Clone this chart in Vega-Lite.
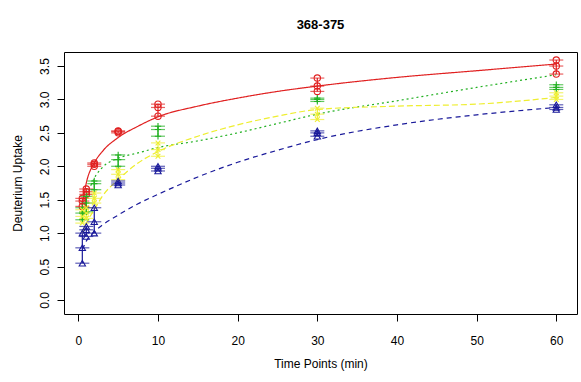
{
  "$schema": "https://vega.github.io/schema/vega-lite/v6.json",
  "autosize": "none",
  "width": 513,
  "height": 262,
  "padding": {"left": 64, "top": 52, "right": 4, "bottom": 68},
  "background": "white",
  "config": {
    "font": "Liberation Sans",
    "view": {"stroke": "black", "strokeWidth": 1},
    "axis": {"grid": false, "domain": false, "tickColor": "black", "tickSize": 7, "labelColor": "black", "titleColor": "black", "labelFontSize": 12, "titleFontSize": 12, "titleFontWeight": "normal"}
  },
  "title": {"text": "368-375", "fontSize": 13, "fontWeight": "bold", "anchor": "middle", "offset": 20, "color": "black"},
  "datasets": {
    "pts": [
      {"s": "A", "t": 0.5, "v": 1.4}, {"s": "A", "t": 0.5, "v": 1.48}, {"s": "A", "t": 0.5, "v": 1.52},
      {"s": "A", "t": 1, "v": 1.58}, {"s": "A", "t": 1, "v": 1.62}, {"s": "A", "t": 1, "v": 1.66},
      {"s": "A", "t": 2, "v": 2.0}, {"s": "A", "t": 2, "v": 2.03}, {"s": "A", "t": 2, "v": 2.05},
      {"s": "A", "t": 5, "v": 2.5}, {"s": "A", "t": 5, "v": 2.52}, {"s": "A", "t": 5, "v": 2.53},
      {"s": "A", "t": 10, "v": 2.75}, {"s": "A", "t": 10, "v": 2.88}, {"s": "A", "t": 10, "v": 2.93},
      {"s": "A", "t": 30, "v": 3.12}, {"s": "A", "t": 30, "v": 3.2}, {"s": "A", "t": 30, "v": 3.32},
      {"s": "A", "t": 60, "v": 3.38}, {"s": "A", "t": 60, "v": 3.5}, {"s": "A", "t": 60, "v": 3.59},
      {"s": "B", "t": 0.5, "v": 1.2}, {"s": "B", "t": 0.5, "v": 1.3}, {"s": "B", "t": 0.5, "v": 1.38},
      {"s": "B", "t": 1, "v": 1.32}, {"s": "B", "t": 1, "v": 1.45}, {"s": "B", "t": 1, "v": 1.55},
      {"s": "B", "t": 2, "v": 1.65}, {"s": "B", "t": 2, "v": 1.74}, {"s": "B", "t": 2, "v": 1.78},
      {"s": "B", "t": 5, "v": 2.0}, {"s": "B", "t": 5, "v": 2.1}, {"s": "B", "t": 5, "v": 2.17},
      {"s": "B", "t": 10, "v": 2.45}, {"s": "B", "t": 10, "v": 2.55}, {"s": "B", "t": 10, "v": 2.6},
      {"s": "B", "t": 30, "v": 2.97}, {"s": "B", "t": 30, "v": 3.0}, {"s": "B", "t": 30, "v": 3.02},
      {"s": "B", "t": 60, "v": 3.15}, {"s": "B", "t": 60, "v": 3.18}, {"s": "B", "t": 60, "v": 3.22},
      {"s": "C", "t": 0.5, "v": 1.15}, {"s": "C", "t": 0.5, "v": 1.25}, {"s": "C", "t": 0.5, "v": 1.35},
      {"s": "C", "t": 1, "v": 1.22}, {"s": "C", "t": 1, "v": 1.3}, {"s": "C", "t": 1, "v": 1.38},
      {"s": "C", "t": 2, "v": 1.45}, {"s": "C", "t": 2, "v": 1.52}, {"s": "C", "t": 2, "v": 1.6},
      {"s": "C", "t": 5, "v": 1.8}, {"s": "C", "t": 5, "v": 1.88}, {"s": "C", "t": 5, "v": 1.95},
      {"s": "C", "t": 10, "v": 2.15}, {"s": "C", "t": 10, "v": 2.25}, {"s": "C", "t": 10, "v": 2.35},
      {"s": "C", "t": 30, "v": 2.7}, {"s": "C", "t": 30, "v": 2.78}, {"s": "C", "t": 30, "v": 2.87},
      {"s": "C", "t": 60, "v": 3.0}, {"s": "C", "t": 60, "v": 3.05}, {"s": "C", "t": 60, "v": 3.1},
      {"s": "D", "t": 0.5, "v": 0.55}, {"s": "D", "t": 0.5, "v": 0.78}, {"s": "D", "t": 0.5, "v": 1.0},
      {"s": "D", "t": 1, "v": 0.95}, {"s": "D", "t": 1, "v": 1.05}, {"s": "D", "t": 1, "v": 1.1},
      {"s": "D", "t": 2, "v": 1.0}, {"s": "D", "t": 2, "v": 1.17}, {"s": "D", "t": 2, "v": 1.38},
      {"s": "D", "t": 5, "v": 1.72}, {"s": "D", "t": 5, "v": 1.75}, {"s": "D", "t": 5, "v": 1.78},
      {"s": "D", "t": 10, "v": 1.93}, {"s": "D", "t": 10, "v": 1.97}, {"s": "D", "t": 10, "v": 2.0},
      {"s": "D", "t": 30, "v": 2.45}, {"s": "D", "t": 30, "v": 2.5}, {"s": "D", "t": 30, "v": 2.53},
      {"s": "D", "t": 60, "v": 2.85}, {"s": "D", "t": 60, "v": 2.88}, {"s": "D", "t": 60, "v": 2.92}
    ],
    "curves": [
      {"s": "A", "t": 0.5, "v": 1.42}, {"s": "A", "t": 1, "v": 1.75}, {"s": "A", "t": 2, "v": 2.05}, {"s": "A", "t": 3, "v": 2.22}, {"s": "A", "t": 5, "v": 2.43}, {"s": "A", "t": 7.5, "v": 2.6}, {"s": "A", "t": 10, "v": 2.74}, {"s": "A", "t": 15, "v": 2.9}, {"s": "A", "t": 20, "v": 3.02}, {"s": "A", "t": 25, "v": 3.12}, {"s": "A", "t": 30, "v": 3.2}, {"s": "A", "t": 40, "v": 3.33}, {"s": "A", "t": 50, "v": 3.43}, {"s": "A", "t": 60, "v": 3.53},
      {"s": "B", "t": 0.5, "v": 1.2}, {"s": "B", "t": 1, "v": 1.5}, {"s": "B", "t": 2, "v": 1.82}, {"s": "B", "t": 3, "v": 1.98}, {"s": "B", "t": 5, "v": 2.12}, {"s": "B", "t": 7.5, "v": 2.2}, {"s": "B", "t": 10, "v": 2.28}, {"s": "B", "t": 15, "v": 2.38}, {"s": "B", "t": 20, "v": 2.5}, {"s": "B", "t": 25, "v": 2.64}, {"s": "B", "t": 30, "v": 2.78}, {"s": "B", "t": 40, "v": 2.98}, {"s": "B", "t": 50, "v": 3.18}, {"s": "B", "t": 60, "v": 3.37},
      {"s": "C", "t": 0.5, "v": 1.0}, {"s": "C", "t": 1, "v": 1.15}, {"s": "C", "t": 2, "v": 1.35}, {"s": "C", "t": 3, "v": 1.55}, {"s": "C", "t": 5, "v": 1.8}, {"s": "C", "t": 7.5, "v": 2.05}, {"s": "C", "t": 10, "v": 2.22}, {"s": "C", "t": 15, "v": 2.45}, {"s": "C", "t": 20, "v": 2.62}, {"s": "C", "t": 25, "v": 2.75}, {"s": "C", "t": 30, "v": 2.85}, {"s": "C", "t": 40, "v": 2.9}, {"s": "C", "t": 50, "v": 2.93}, {"s": "C", "t": 60, "v": 3.03},
      {"s": "D", "t": 0.5, "v": 0.75}, {"s": "D", "t": 1, "v": 0.88}, {"s": "D", "t": 2, "v": 1.02}, {"s": "D", "t": 3, "v": 1.12}, {"s": "D", "t": 5, "v": 1.27}, {"s": "D", "t": 7.5, "v": 1.44}, {"s": "D", "t": 10, "v": 1.58}, {"s": "D", "t": 15, "v": 1.84}, {"s": "D", "t": 20, "v": 2.06}, {"s": "D", "t": 25, "v": 2.24}, {"s": "D", "t": 30, "v": 2.4}, {"s": "D", "t": 40, "v": 2.62}, {"s": "D", "t": 50, "v": 2.77}, {"s": "D", "t": 60, "v": 2.88}
    ]
  },
  "encoding": {
    "x": {"field": "t", "type": "quantitative", "scale": {"domain": [-1.8, 62.6], "nice": false, "zero": false},
      "axis": {"values": [0, 10, 20, 30, 40, 50, 60], "title": "Time Points (min)", "labelPadding": 14, "titlePadding": 12}},
    "y": {"field": "v", "type": "quantitative", "scale": {"domain": [-0.21, 3.71], "nice": false, "zero": false},
      "axis": {"values": [0, 0.5, 1, 1.5, 2, 2.5, 3, 3.5], "format": ".1f", "title": "Deuterium Uptake", "labelAngle": 270, "labelAlign": "center", "labelBaseline": "bottom", "labelPadding": 6, "titlePadding": 14}},
    "color": {"field": "s", "type": "nominal", "legend": null, "scale": {"domain": ["A", "B", "C", "D"], "range": ["#e02020", "#22b022", "#eeee30", "#1a1a9a"]}}
  },
  "layer": [
    {
      "data": {"name": "curves"},
      "mark": {"type": "line", "interpolate": "monotone", "strokeWidth": 1.2},
      "encoding": {
        "strokeDash": {"field": "s", "type": "nominal", "legend": null, "scale": {"domain": ["A", "B", "C", "D"], "range": [[1, 0], [2, 3], [6, 3], [5, 4]]}}
      }
    },
    {
      "data": {"name": "pts"},
      "transform": [{"aggregate": [{"op": "min", "field": "v", "as": "lo"}, {"op": "max", "field": "v", "as": "hi"}], "groupby": ["s", "t"]}],
      "mark": {"type": "rule", "strokeWidth": 1.2},
      "encoding": {"y": {"field": "lo", "type": "quantitative"}, "y2": {"field": "hi"}}
    },
    {
      "data": {"name": "pts"},
      "mark": {"type": "tick", "orient": "horizontal", "size": 14, "thickness": 1.2}
    },
    {
      "data": {"name": "pts"},
      "mark": {"type": "point", "filled": false, "strokeWidth": 1.1, "size": 40, "opacity": 1},
      "encoding": {
        "shape": {"field": "s", "type": "nominal", "legend": null, "scale": {"domain": ["A", "B", "C", "D"], "range": ["circle", "M-1,0L1,0M0,-1L0,1", "M-0.75,-0.75L0.75,0.75M-0.75,0.75L0.75,-0.75", "triangle-up"]}}
      }
    }
  ]
}
